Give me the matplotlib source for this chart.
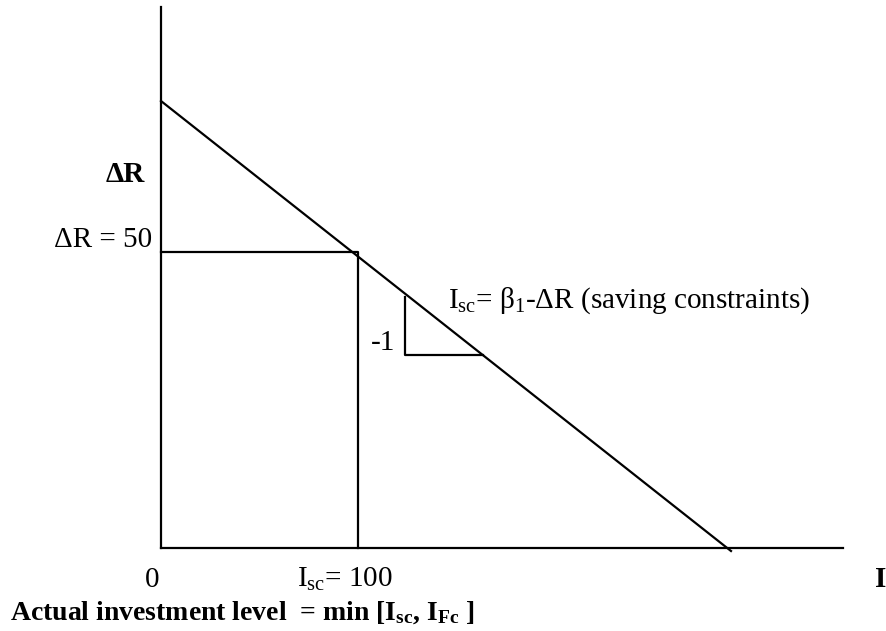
import matplotlib
matplotlib.use('Agg')
import matplotlib.pyplot as plt

plt.rcParams['font.family'] = ['Liberation Serif', 'DejaVu Serif']
plt.rcParams['mathtext.fontset'] = 'custom'
plt.rcParams['mathtext.rm'] = 'Liberation Serif'
plt.rcParams['mathtext.it'] = 'Liberation Serif:italic'
plt.rcParams['mathtext.bf'] = 'Liberation Serif:bold'

# diagram in screen-like units, origin at the corner of the axes
axis_x = [0, 682]
axis_y = [0, 541]
constraint_x = [0, 570]
constraint_y = [447, -3]
point_I = 197       # I_sc = 100
point_R = 296       # dR = 50
tri_x = [244, 244, 322]
tri_y = [251, 193, 193]

fig = plt.figure(figsize=(8.87, 6.31), dpi=100)
ax = fig.add_axes([0, 0, 1, 1])
ax.set_xlim(-161, 726)
ax.set_ylim(-83, 548)
ax.axis('off')

lw = 1.6
ax.plot(axis_x, [0, 0], color='black', lw=lw)
ax.plot([0, 0], axis_y, color='black', lw=lw)
ax.plot(constraint_x, constraint_y, color='black', lw=lw)
ax.plot([0, point_I, point_I], [point_R, point_R, 0], color='black', lw=lw)
ax.plot(tri_x, tri_y, color='black', lw=lw)

fs = 21
ax.text(-16, 366, 'ΔR', fontsize=fs, fontweight='bold', ha='right', va='baseline')
ax.text(-9, 301, 'ΔR = 50', fontsize=fs, ha='right', va='baseline')
ax.text(-9, -39, '0', fontsize=fs, ha='center', va='baseline')
ax.text(184, -39, r'I$_{\rm sc}$= 100', fontsize=fs, ha='center', va='baseline')
ax.text(725, -39, 'I', fontsize=fs, fontweight='bold', ha='right', va='baseline')
ax.text(-151, -72, r'Actual investment level  = min [I$_{\mathbf{sc}}$, I$_{\mathbf{Fc}}$ ]',
        fontsize=20, fontweight='bold', ha='left', va='baseline')
ax.text(287, 240, r'I$_{\rm sc}$= β$_{\rm 1}$-ΔR (saving constraints)',
        fontsize=fs, ha='left', va='baseline')
ax.text(234, 198, '-1', fontsize=fs, ha='right', va='baseline')

fig.savefig('out.png', dpi=100)
